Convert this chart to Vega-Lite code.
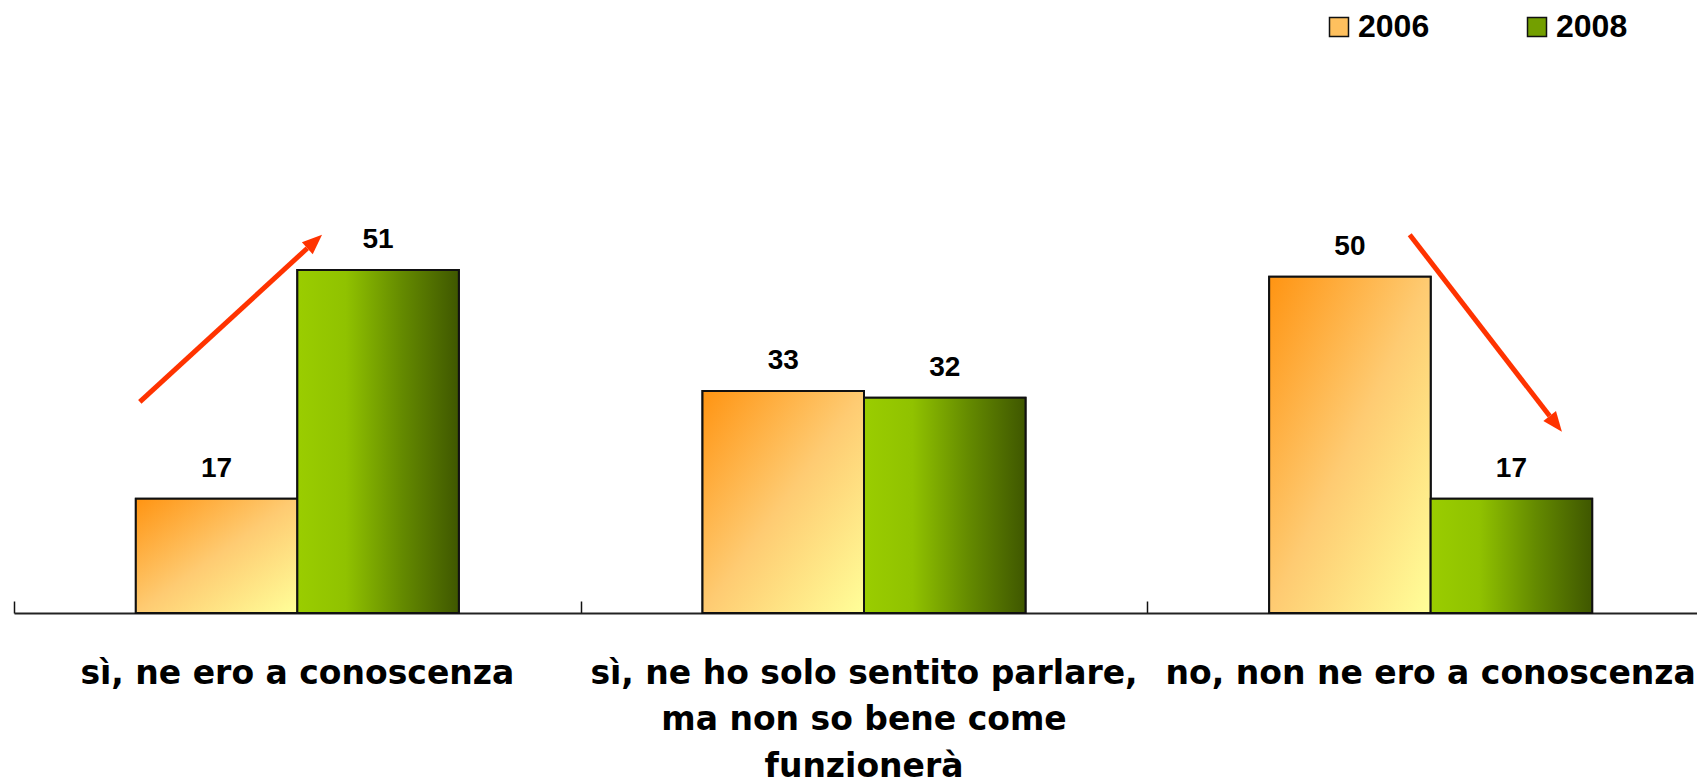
{
  "$schema": "https://vega.github.io/schema/vega-lite/v6.json",
  "autosize": {"type": "none"},
  "width": 1683,
  "height": 538,
  "padding": {"left": 14, "top": 75, "right": 0, "bottom": 168},
  "background": "white",
  "config": {"view": {"stroke": null}, "font": "Liberation Sans"},
  "datasets": {
    "bars": [
      {"category": "sì, ne ero a conoscenza", "year": "2006", "value": 17},
      {"category": "sì, ne ero a conoscenza", "year": "2008", "value": 51},
      {"category": "sì, ne ho solo sentito parlare, ma non so bene come funzionerà", "year": "2006", "value": 33},
      {"category": "sì, ne ho solo sentito parlare, ma non so bene come funzionerà", "year": "2008", "value": 32},
      {"category": "no, non ne ero a conoscenza", "year": "2006", "value": 50},
      {"category": "no, non ne ero a conoscenza", "year": "2008", "value": 17}
    ],
    "arrows": [
      {"arrow": "up", "x_start": 0.222, "y_start": 31.4, "x_end": 0.5176, "y_end": 54.24},
      {"arrow": "down", "x_start": 2.463, "y_start": 56.25, "x_end": 2.71, "y_end": 29.29}
    ]
  },
  "layer": [
    {
      "data": {"name": "bars"},
      "encoding": {
        "x": {
          "field": "category", "type": "nominal", "sort": null,
          "scale": {"range": [0, 1700], "paddingInner": 0.43, "paddingOuter": 0.215},
          "axis": {
            "orient": "bottom", "title": null, "domain": false, "ticks": false, "tickSize": 0,
            "labelAngle": 0, "labelPadding": 44, "labelLimit": 0, "labelOverlap": false,
            "labelFont": "DejaVu Sans", "labelFontWeight": "bold", "labelFontSize": 33, "labelColor": "black",
            "labelLineHeight": 46.5, "labelBaseline": "top",
            "labelExpr": "datum.value === 'sì, ne ho solo sentito parlare, ma non so bene come funzionerà' ? ['sì, ne ho solo sentito parlare,', 'ma non so bene come', 'funzionerà'] : datum.label"
          }
        },
        "xOffset": {"field": "year", "type": "nominal", "sort": ["2006", "2008"], "scale": {"paddingInner": 0, "paddingOuter": 0}},
        "y": {"field": "value", "type": "quantitative", "scale": {"domain": [0, 80], "nice": false}, "axis": null}
      },
      "layer": [
        {
          "mark": {"type": "bar", "stroke": "#111111", "strokeWidth": 2},
          "encoding": {
            "color": {
              "field": "year", "type": "nominal",
              "scale": {"domain": ["2006", "2008"], "range": ["#FEC05E", "#739F00"]},
              "legend": {
                "title": null, "orient": "none", "legendX": 1309, "legendY": -64, "direction": "horizontal",
                "symbolType": "square", "symbolSize": 361, "symbolStrokeColor": "#111111", "symbolStrokeWidth": 1.5,
                "labelFont": "Liberation Sans", "labelFontWeight": "bold", "labelFontSize": 32, "labelColor": "black",
                "labelOffset": 3, "columnPadding": 91,
                "encode": {
                  "symbols": {
                    "update": {
                      "fill": {
                        "condition": {"test": "datum.value === '2006'", "value": {"gradient": "linear", "x1": 0, "y1": 0, "x2": 1, "y2": 1, "stops": [{"offset": 0, "color": "#FF9412"}, {"offset": 0.5, "color": "#FECB72"}, {"offset": 1, "color": "#FFFF99"}]}},
                        "value": {"gradient": "linear", "x1": 0, "y1": 0, "x2": 1, "y2": 0, "stops": [{"offset": 0, "color": "#9ACD00"}, {"offset": 0.3, "color": "#90C200"}, {"offset": 0.65, "color": "#648A00"}, {"offset": 1, "color": "#3F5700"}]}
                      },
                      "stroke": {"value": "#111111"},
                      "strokeWidth": {"value": 1.5},
                      "opacity": {"value": 1}
                    }
                  }
                }
              }
            }
          }
        },
        {
          "mark": {"type": "bar", "stroke": "#111111", "strokeWidth": 2},
          "encoding": {
            "fill": {
              "condition": {"test": "datum.year === '2006'", "value": {"gradient": "linear", "x1": 0, "y1": 0, "x2": 1, "y2": 1, "stops": [{"offset": 0, "color": "#FF9412"}, {"offset": 0.5, "color": "#FECB72"}, {"offset": 1, "color": "#FFFF99"}]}},
              "value": {"gradient": "linear", "x1": 0, "y1": 0, "x2": 1, "y2": 0, "stops": [{"offset": 0, "color": "#9ACD00"}, {"offset": 0.3, "color": "#90C200"}, {"offset": 0.65, "color": "#648A00"}, {"offset": 1, "color": "#3F5700"}]}
            }
          }
        },
        {
          "mark": {"type": "text", "baseline": "alphabetic", "dy": -22, "fontSize": 28, "fontWeight": "bold", "font": "Liberation Sans", "fill": "black"},
          "encoding": {"text": {"field": "value", "type": "quantitative"}}
        }
      ]
    },
    {
      "data": {"name": "arrows"},
      "layer": [
        {
          "mark": {"type": "rule", "color": "#FF3300", "strokeWidth": 5, "strokeCap": "butt"},
          "encoding": {
            "x": {
              "field": "x_start", "type": "quantitative",
              "scale": {"domain": [0, 3], "range": [0, 1700], "nice": false, "zero": false},
              "axis": {
                "orient": "bottom", "title": null, "values": [0, 1, 2, 3], "labels": false, "grid": false,
                "tickSize": -12, "tickWidth": 1.5, "tickColor": "#111111",
                "domainColor": "#222222", "domainWidth": 2
              }
            },
            "x2": {"field": "x_end"},
            "y": {"field": "y_start", "type": "quantitative"},
            "y2": {"field": "y_end"}
          }
        },
        {
          "mark": {"type": "point", "filled": true, "fill": "#FF3300", "strokeWidth": 0, "opacity": 1, "size": 1600},
          "encoding": {
            "x": {"field": "x_end", "type": "quantitative"},
            "y": {"field": "y_end", "type": "quantitative"},
            "shape": {
              "field": "arrow", "type": "nominal",
              "scale": {"domain": ["up", "down"], "range": ["M0.737,-0.676L0.270,0.295L-0.270,-0.295Z", "M0.612,0.791L-0.316,0.245L0.316,-0.245Z"]},
              "legend": null
            }
          }
        }
      ]
    }
  ],
  "resolve": {"scale": {"x": "independent"}, "axis": {"x": "independent"}}
}
